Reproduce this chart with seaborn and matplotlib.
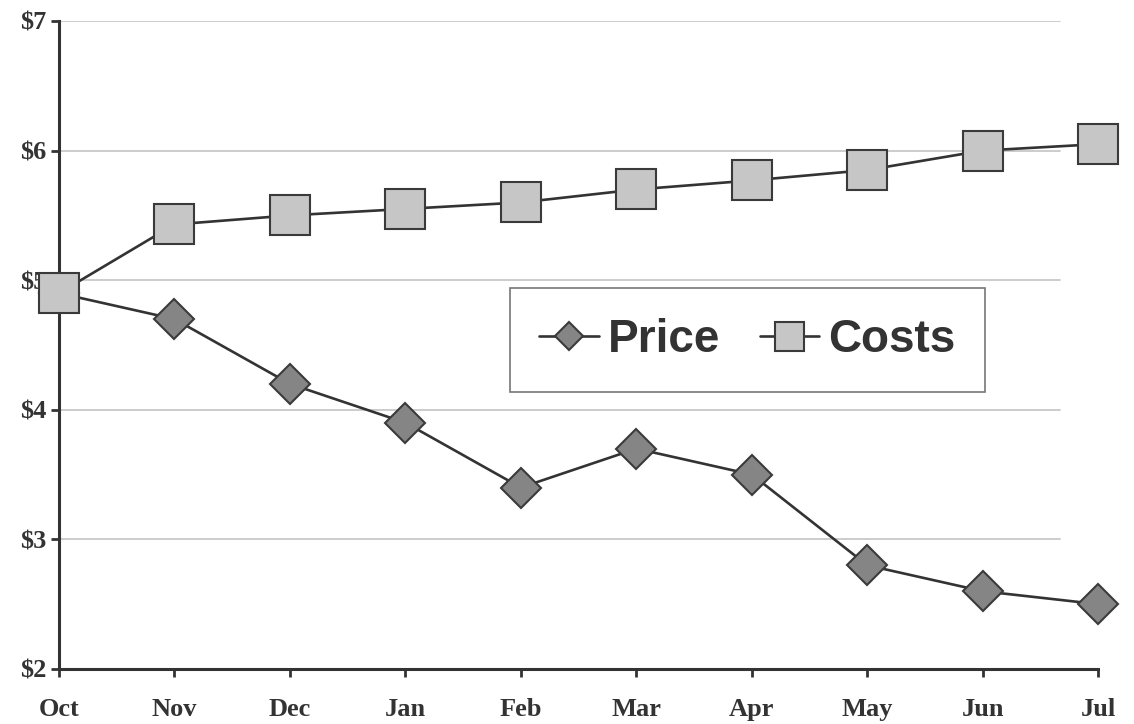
import matplotlib
matplotlib.use("Agg")
import matplotlib.pyplot as plt
import seaborn as sns
import pandas as pd
from matplotlib.ticker import FuncFormatter

months = ["Oct", "Nov", "Dec", "Jan", "Feb", "Mar", "Apr", "May", "Jun", "Jul"]
price = [4.9, 4.7, 4.2, 3.9, 3.4, 3.7, 3.5, 2.8, 2.6, 2.5]
costs = [4.9, 5.43, 5.5, 5.55, 5.6, 5.7, 5.77, 5.85, 6.0, 6.05]
y_ticks = [2, 3, 4, 5, 6, 7]

df = pd.DataFrame({"month": months, "x": range(len(months)),
                   "Price": price, "Costs": costs})

sns.set_style("white")
plt.rcParams["font.family"] = ["Liberation Serif", "DejaVu Serif"]

fig = plt.figure(figsize=(11.34, 7.24), dpi=100)
ax = fig.add_axes([0.052, 0.076, 0.9165, 0.895])

line_col = "#333333"
sns.lineplot(data=df, x="x", y="Price", ax=ax, color=line_col, linewidth=1.9,
             marker="D", markersize=20, markerfacecolor="#858585",
             markeredgecolor="#3a3a3a", markeredgewidth=1.5, label="Price",
             zorder=4, clip_on=False)
sns.lineplot(data=df, x="x", y="Costs", ax=ax, color=line_col, linewidth=1.9,
             marker="s", markersize=29, markerfacecolor="#c6c6c6",
             markeredgecolor="#3a3a3a", markeredgewidth=1.5, label="Costs",
             zorder=5, clip_on=False)

ax.set_xlim(0, len(months) - 1)
ax.set_ylim(2, 7)
ax.set_xticks(df["x"])
ax.set_xticklabels(months)
ax.set_yticks(y_ticks)
ax.yaxis.set_major_formatter(FuncFormatter(lambda v, _: f"${v:.0f}"))
ax.set_xlabel("")
ax.set_ylabel("")

# horizontal gridlines stopping short of the right end
for v in y_ticks[1:]:
    ax.axhline(v, xmin=0, xmax=0.963, color="#c8c8c8", linewidth=1.3, zorder=1)

for side in ("top", "right"):
    ax.spines[side].set_visible(False)
for side in ("left", "bottom"):
    ax.spines[side].set_color("#333333")
    ax.spines[side].set_linewidth(2.2)

ax.tick_params(axis="both", direction="out", length=6, width=2,
               bottom=True, left=True,
               color="#333333", labelsize=19, labelcolor="#333333")
ax.tick_params(axis="x", pad=15)
ax.tick_params(axis="y", pad=3)
for lbl in ax.get_xticklabels() + ax.get_yticklabels():
    lbl.set_fontweight("bold")

handles, labels = ax.get_legend_handles_labels()
leg = ax.legend(handles, labels,
                loc="center", bbox_to_anchor=(0.439, 0.426, 0.447, 0.164),
                ncol=2, frameon=True, fancybox=False, shadow=False,
                prop={"family": "Liberation Sans", "weight": "bold", "size": 33},
                handlelength=1.3, handletextpad=0.2, columnspacing=0.85,
                markerscale=0.72, borderpad=0.65)
leg.get_frame().set_edgecolor("#555555")
leg.get_frame().set_linewidth(1.2)
for t in leg.get_texts():
    t.set_color("#333333")

fig.savefig("out.png", dpi=100, facecolor="white")
